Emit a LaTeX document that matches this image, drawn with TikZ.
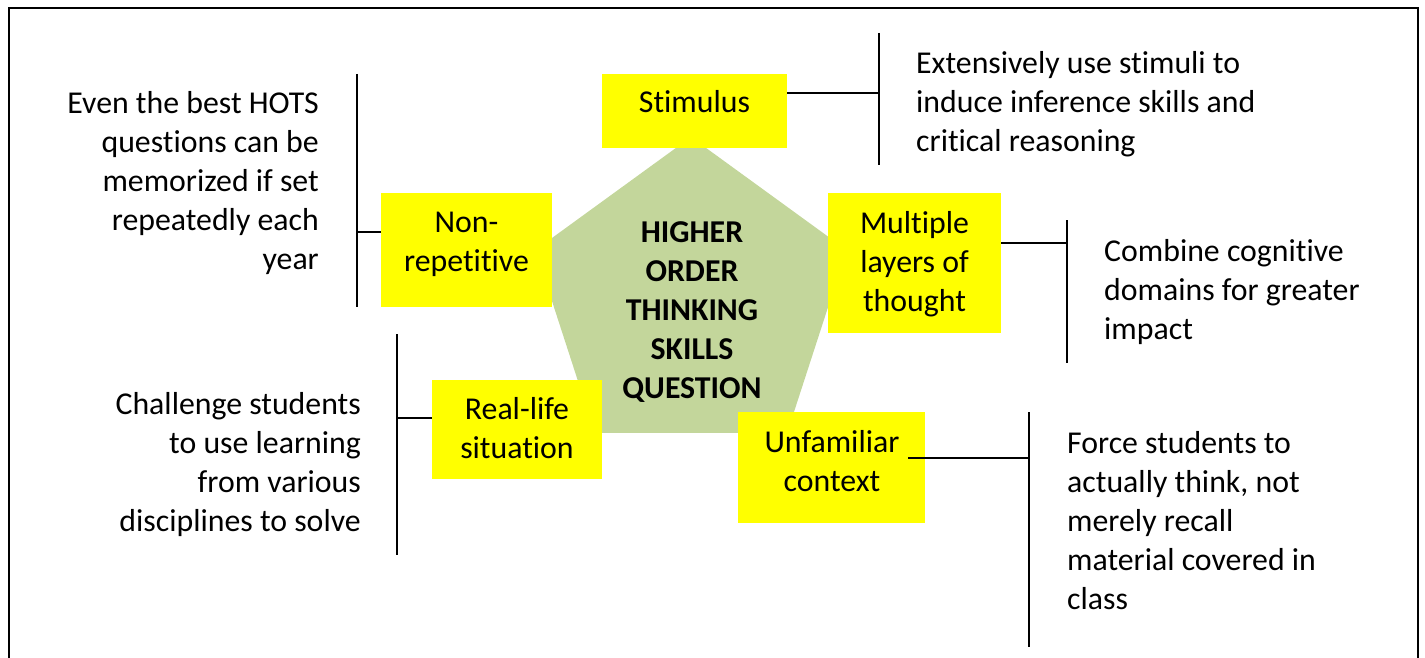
\documentclass[tikz,border=0pt]{standalone}
\usepackage{fontspec}
\setmainfont{Carlito}[Ligatures=NoCommon]
\usetikzlibrary{shapes.geometric}
\definecolor{hotsgreen}{RGB}{195,214,155}
\definecolor{topicyellow}{RGB}{255,255,0}

\begin{document}
\begin{tikzpicture}[x=1pt,y=-1pt,
  every node/.style={font=\fontsize{31.8}{39}\selectfont},
  topic/.style={fill=topicyellow,inner sep=0pt,outer sep=0pt},
  topictext/.style={align=center,inner sep=0pt,anchor=base},
  note/.style={inner sep=0pt},
  bar/.style={line width=2.2pt}]
\useasboundingbox (0,0) rectangle (1425,658);
\draw[line width=2.4pt] (9,658) -- (9,8) -- (1418,8) -- (1418,658);

\node[regular polygon,regular polygon sides=5,minimum size=327.2pt,inner sep=0pt,outer sep=0pt,fill=hotsgreen] (hots) at (691,300.6) {};
\node[align=center,inner sep=0pt,anchor=base,font=\fontsize{31.8}{39}\selectfont\bfseries] (hotslabel) at (692,398) {HIGHER\\ORDER\\THINKING\\SKILLS\\QUESTION};

\node[topic,minimum width=185pt,minimum height=74pt] (stim) at (694.5,111) {};
\node[topictext] (stimtext) at (694.5,113) {Stimulus};
\node[topic,minimum width=171pt,minimum height=114pt] (nonrep) at (466.5,250) {};
\node[topictext] (nonreptext) at (466.5,271) {Non-\\repetitive};
\node[topic,minimum width=173pt,minimum height=140pt] (multi) at (914.5,263) {};
\node[topictext] (multitext) at (914.5,311) {Multiple\\layers of\\thought};
\node[topic,minimum width=170pt,minimum height=99pt] (real) at (517,429.5) {};
\node[topictext] (realtext) at (517,458) {Real-life\\situation};
\node[topic,minimum width=187pt,minimum height=111pt] (unf) at (831.5,467.5) {};
\node[topictext] (unftext) at (832,491) {Unfamiliar\\context};

\node[note,anchor=base west,align=left] (stimnote) at (916,152) {Extensively use stimuli to\\induce inference skills and\\critical reasoning};
\node[note,anchor=base east,align=right] (nonrepnote) at (319,269) {Even the best HOTS\\questions can be\\memorized if set\\repeatedly each\\year};
\node[note,anchor=base west,align=left] (multinote) at (1104,339) {Combine cognitive\\domains for greater\\impact};
\node[note,anchor=base east,align=right] (realnote) at (361,531) {Challenge students\\to use learning\\from various\\disciplines to solve};
\node[note,anchor=base west,align=left] (unfnote) at (1067,609) {Force students to\\actually think, not\\merely recall\\material covered in\\class};

\coordinate (stimtop) at (879,33);
\coordinate (stimbot) at (879,165);
\coordinate (stimjoin) at (879,93);
\coordinate (nonreptop) at (357,74);
\coordinate (nonrepbot) at (357,307);
\coordinate (nonrepjoin) at (357,232);
\coordinate (multitop) at (1067,220);
\coordinate (multibot) at (1067,363);
\coordinate (multijoin) at (1067,243);
\coordinate (realtop) at (397,334);
\coordinate (realbot) at (397,555);
\coordinate (realjoin) at (397,418);
\coordinate (unftop) at (1029,412);
\coordinate (unfbot) at (1029,647);
\coordinate (unfjoin) at (1029,458);
\coordinate (unfstart) at (908,458);

\draw[bar] (stimtop) -- (stimbot);
\draw[bar] (stim.east |- stimjoin) -- (stimjoin);
\draw[bar] (nonreptop) -- (nonrepbot);
\draw[bar] (nonrep.west |- nonrepjoin) -- (nonrepjoin);
\draw[bar] (multitop) -- (multibot);
\draw[bar] (multi.east |- multijoin) -- (multijoin);
\draw[bar] (realtop) -- (realbot);
\draw[bar] (real.west |- realjoin) -- (realjoin);
\draw[bar] (unftop) -- (unfbot);
\draw[bar] (unfstart) -- (unfjoin);
\end{tikzpicture}
\end{document}
